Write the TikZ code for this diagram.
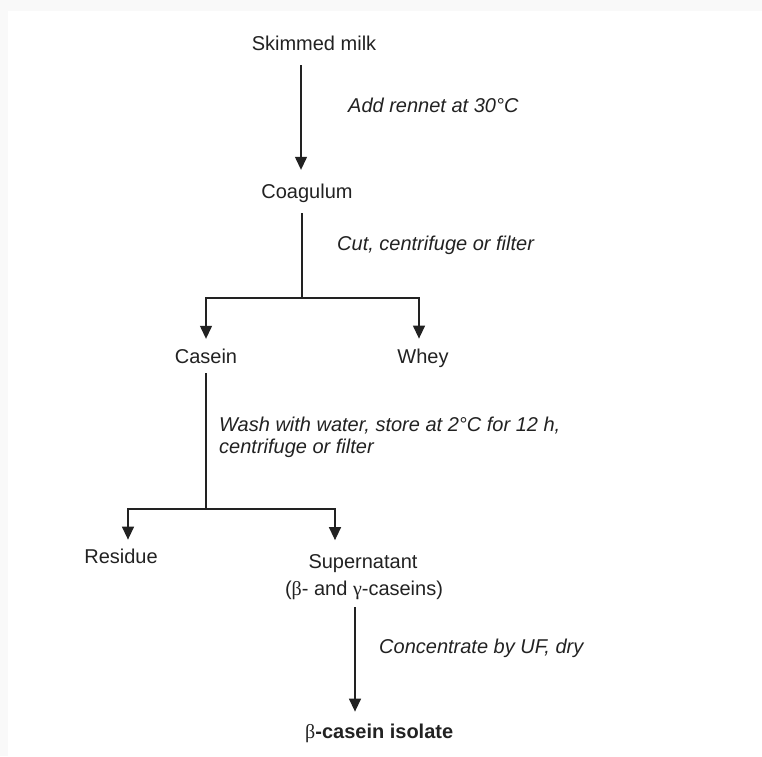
\documentclass[tikz,border=0pt]{standalone}
\usepackage{fontspec}
\setmainfont{Liberation Sans}
\newfontfamily\grk{Liberation Serif}
\usetikzlibrary{arrows.meta}
\definecolor{bgc}{RGB}{249,249,249}
\definecolor{ink}{RGB}{34,34,34}
\begin{document}
\begin{tikzpicture}[x=1pt,y=-1pt,
  txt/.style={inner sep=0pt, anchor=base, font=\fontsize{20}{24}\selectfont, text=ink},
  lbl/.style={inner sep=0pt, anchor=base west, font=\fontsize{20}{22.5}\selectfont\itshape, text=ink, align=left},
  ln/.style={draw=ink, line width=1.3pt},
  arr/.style={ln, -{Triangle[width=12pt,length=13pt]}}]
% background
\fill[bgc] (0,0) rectangle (762,756);
\fill[white] (8,10.5) rectangle (762,756);
% columns and junctions
\coordinate (cA) at (301,0);
\coordinate (j1) at (302,298);
\coordinate (cCas) at (206,0);
\coordinate (cWhey) at (419,0);
\coordinate (j2) at (206,509);
\coordinate (cRes) at (128,0);
\coordinate (cSup) at (335,0);
\coordinate (cFin) at (355,0);
% main nodes
\node[txt] (sm) at (314,50) {Skimmed milk};
\node[txt] (coag) at (307,198) {Coagulum};
\node[txt] (cas) at (206,363) {Casein};
\node[txt] (whey) at (423,363) {Whey};
\node[txt] (res) at (121,563) {Residue};
\node[txt] (sup) at (363,568) {Supernatant};
\node[txt] (sup2) at (364,595) {({\grk β}- and {\grk γ}-caseins)};
\node[txt, anchor=base west, font=\fontsize{20}{24}\selectfont\bfseries] (fin) at (305,738) {{\grk\mdseries β}-casein isolate};
% step labels
\node[lbl] (l1) at (348,112) {Add rennet at 30°C};
\node[lbl] (l2) at (337,250) {Cut, centrifuge or filter};
\node[lbl, anchor=north west] (l3) at (219,416.5) {Wash with water, store at 2°C for 12 h,\\centrifuge or filter};
\node[lbl] (l4) at (379,653) {Concentrate by UF, dry};
% connectors
\draw[arr, shorten <=15pt, shorten >=13.5pt] (sm.south -| cA) -- (coag.north -| cA);
\draw[ln, shorten <=11pt] (coag.south -| j1) -- (j1);
\draw[arr, shorten >=9.5pt] (j1) -| (cas.north -| cCas);
\draw[arr, shorten >=9.7pt] (j1) -| (whey.north -| cWhey);
\draw[ln, shorten <=10pt] (cas.south -| j2) -- (j2);
\draw[arr, shorten >=8.7pt] (j2) -| (res.north -| cRes);
\draw[arr, shorten >=13.7pt] (j2) -| (sup.north -| cSup);
\draw[arr, shorten <=8pt, shorten >=11.7pt] (sup2.south -| cFin) -- (fin.north -| cFin);
\end{tikzpicture}
\end{document}
